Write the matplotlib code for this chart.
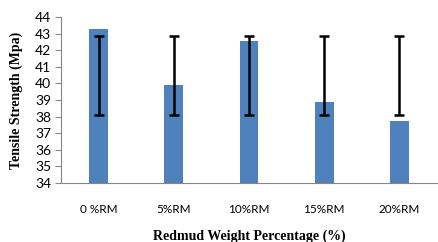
import matplotlib
matplotlib.use("Agg")
import matplotlib.pyplot as plt
import numpy as np

categories = ["0 %RM", "5%RM", "10%RM", "15%RM", "20%RM"]
strength = [43.28, 39.9, 42.55, 38.9, 37.73]
err_low = [38.1, 38.1, 38.1, 38.1, 38.1]
err_high = [42.85, 42.85, 42.85, 42.85, 42.85]
yticks = [34, 35, 36, 37, 38, 39, 40, 41, 42, 43, 44]

fig = plt.figure(figsize=(4.38, 2.42), dpi=100)
ax = fig.add_axes([61/438, 1-183/242, (437-61)/438, (183-17)/242])

x = np.arange(len(categories))
ax.bar(x, strength, width=0.25, color="#4F81BD", zorder=2)
lo = np.array(err_low); hi = np.array(err_high)
mid = (lo + hi) / 2
half = (hi - lo) / 2
ax.errorbar(x, mid, yerr=half, fmt="none", ecolor="black", elinewidth=1.8,
            capsize=3.5, capthick=1.8, zorder=3)

ax.set_xlim(-0.5, len(categories) - 0.5)
ax.set_ylim(34, 44)
ax.set_yticks(yticks)
ax.set_xticks(x)
ax.set_xticklabels(categories, fontfamily="Lato", fontsize=8.5)
for lab in ax.get_yticklabels():
    lab.set_fontfamily("Lato")
    lab.set_fontsize(10)
ax.tick_params(axis="y", length=4, color="#868686", width=0.8, pad=3)
ax.tick_params(axis="x", length=0, pad=15)

for s in ["top", "right"]:
    ax.spines[s].set_visible(False)
for s in ["left", "bottom"]:
    ax.spines[s].set_color("#868686")
    ax.spines[s].set_linewidth(0.8)

ax.set_ylabel("Tensile Strength (Mpa)", fontfamily="Liberation Serif",
              fontweight="bold", fontsize=10, labelpad=9)
fig.text(249/438, 1-236/242, "Redmud Weight Percentage (%)",
         fontfamily="Liberation Serif", fontweight="bold", fontsize=10,
         ha="center", va="center")

fig.savefig("out.png", dpi=100)
